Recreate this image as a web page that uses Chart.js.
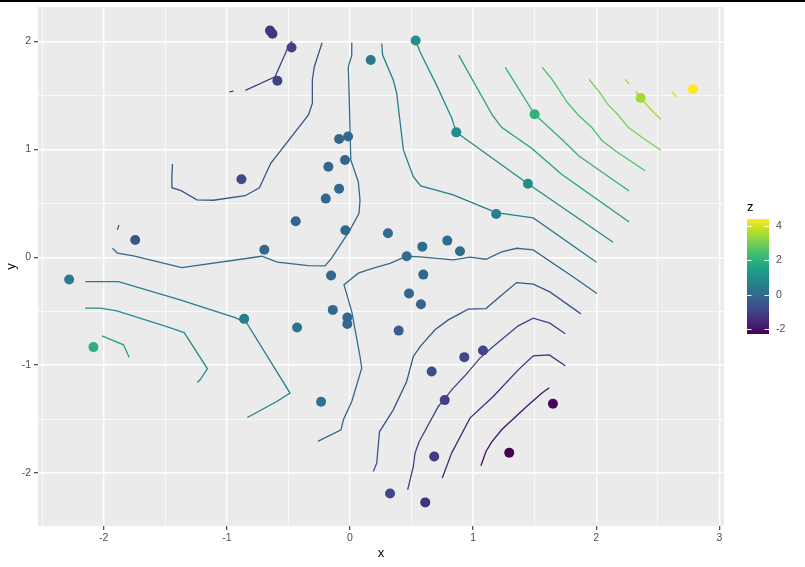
<!DOCTYPE html>
<html>
<head>
<meta charset="utf-8">
<script src="https://cdn.jsdelivr.net/npm/chart.js@4.4.0/dist/chart.umd.min.js"></script>
<style>
  html, body { margin: 0; padding: 0; background: #fff; }
  #wrap { position: relative; width: 805px; height: 567px; }
  #topbar { position: absolute; left: 0; top: 0; width: 805px; height: 2px; background: #000; }
</style>
</head>
<body>
<div id="wrap">
  <canvas id="contourChart" width="805" height="567"></canvas>
  <div id="topbar"></div>
</div>
<script>
// observed points (x, y, z)
const pointX = [-0.65, -0.63, -0.475, -0.59, -0.882, -1.745, -0.696, -0.089, -0.016, -0.041,
  -0.176, -0.089, -0.197, -0.441, -0.038, 0.168, 0.308, -0.154, 0.533, 0.863,
  1.499, 2.36, 2.784, 1.445, 1.187, 0.46, 0.587, 0.79, 0.893, 0.595,
  -2.281, -2.084, -0.86, -0.43, -0.14, -0.022, -0.022, -0.235, 0.325, 0.479,
  0.576, 0.395, 0.928, 1.08, 0.663, 0.769, 0.684, 1.293, 1.648, 0.611];
const pointY = [2.10, 2.07, 1.943, 1.635, 0.722, 0.16, 0.07, 1.095, 1.118, 0.901,
  0.839, 0.635, 0.543, 0.333, 0.25, 1.827, 0.222, -0.169, 2.009, 1.157,
  1.324, 1.475, 1.556, 0.681, 0.401, 0.009, 0.098, 0.154, 0.056, -0.161,
  -0.207, -0.833, -0.571, -0.652, -0.488, -0.559, -0.618, -1.34, -2.19, -0.337,
  -0.435, -0.68, -0.926, -0.865, -1.059, -1.324, -1.846, -1.812, -1.358, -2.272];
const pointZ = [-1.35, -1.3, -1.0, -1.0, -0.85, -0.55, -0.15, -0.1, -0.05, -0.1,
  -0.15, -0.1, -0.1, -0.2, -0.05, 0.4, 0.05, 0.0, 1.05, 1.0,
  2.0, 3.5, 4.39, 1.0, 0.55, 0.0, 0.05, 0.05, 0.05, -0.1,
  0.45, 1.95, 0.5, 0.15, 0.0, 0.0, 0.0, 0.25, -0.9, -0.15,
  -0.2, -0.3, -0.85, -0.95, -0.75, -1.0, -1.2, -2.29, -2.2, -1.35];

// contour paths, [x, y] in data units
const lineNeg2 = [[1.063, -1.932], [1.104, -1.8], [1.15, -1.713], [1.231, -1.599], [1.434, -1.383], [1.564, -1.254], [1.618, -1.21]];
const lineNeg15 = [[0.749, -2.046], [0.825, -1.815], [0.974, -1.491], [1.163, -1.291], [1.366, -1.044], [1.488, -0.914], [1.618, -0.905], [1.748, -1.006]];
const lineNeg1Bottom = [[0.468, -2.155], [0.514, -1.939], [0.528, -1.815], [0.562, -1.707], [0.717, -1.383], [0.838, -1.213],
  [0.933, -1.099], [1.055, -0.935], [1.163, -0.828], [1.366, -0.636], [1.488, -0.565], [1.623, -0.611], [1.748, -0.71]];
const lineNeg1Top = [[-0.85, 1.546], [-0.609, 1.672], [-0.495, 1.966], [-0.471, 2.003]];
const lineNeg1Dash = [[-0.98, 1.533], [-0.947, 1.54]];
const lineNeg05Bottom = [[0.189, -1.985], [0.217, -1.907], [0.239, -1.618], [0.351, -1.414], [0.46, -1.152], [0.514, -0.92],
  [0.574, -0.821], [0.69, -0.673], [0.798, -0.581], [0.96, -0.481], [1.104, -0.476], [1.218, -0.365],
  [1.353, -0.235], [1.488, -0.25], [1.623, -0.321], [1.875, -0.525]];
const lineNeg05Top = [[-1.442, 0.864], [-1.447, 0.746], [-1.447, 0.644], [-1.372, 0.617], [-1.244, 0.531], [-1.11, 0.528],
  [-0.852, 0.57], [-0.736, 0.644], [-0.644, 0.87], [-0.338, 1.318], [-0.306, 1.426], [-0.306, 1.642],
  [-0.29, 1.765], [-0.227, 1.987]];
const lineZeroTop = [[-1.929, 0.083], [-1.889, 0.037], [-1.759, 0.012], [-1.366, -0.096], [-0.717, 0.009], [-0.59, -0.046],
  [-0.338, -0.078], [-0.203, -0.081], [-0.149, -0.009], [0.0, 0.253], [0.073, 0.407], [0.081, 0.531],
  [0.067, 0.7], [0.006, 0.901], [-0.006, 1.456], [-0.014, 1.765], [0.014, 1.873], [0.014, 1.987]];
const lineZeroDash = [[-1.889, 0.253], [-1.877, 0.299]];
const lineZeroBottom = [[-0.262, -1.707], [-0.073, -1.599], [-0.054, -1.506], [0.014, -1.337], [0.095, -1.028], [0.081, -0.92],
  [0.014, -0.504], [-0.049, -0.256], [0.067, -0.148], [0.189, -0.102], [0.325, -0.056], [0.46, 0.009],
  [0.568, 0.003], [0.838, -0.025], [0.974, 0.0], [1.104, -0.019], [1.231, 0.049], [1.353, 0.083],
  [1.488, 0.068], [1.84, -0.204], [2.005, -0.337]];
const line05Right = [[0.257, 1.981], [0.265, 1.873], [0.351, 1.642], [0.379, 1.519], [0.433, 0.994], [0.514, 0.746],
  [0.574, 0.66], [0.838, 0.577], [1.187, 0.413], [1.488, 0.364], [2.002, -0.046]];
const line05Left = [[-2.151, -0.226], [-1.881, -0.226], [-1.38, -0.395], [-0.933, -0.559], [-0.838, -0.611], [-0.487, -1.259],
  [-0.595, -1.337], [-0.834, -1.485]];
const line1Right = [[0.533, 2.009], [0.568, 1.904], [0.696, 1.611], [0.825, 1.293], [0.863, 1.157], [0.942, 1.093],
  [1.445, 0.681], [2.137, 0.139]];
const line1Left = [[-2.151, -0.472], [-2.029, -0.472], [-1.894, -0.497], [-1.488, -0.643], [-1.347, -0.698], [-1.158, -1.034],
  [-1.218, -1.136], [-1.24, -1.161]];
const line15Right = [[0.882, 1.873], [1.155, 1.318], [1.231, 1.204], [1.475, 1.009], [1.718, 0.769], [2.267, 0.327]];
const line15Left = [[-2.015, -0.729], [-1.84, -0.812], [-1.794, -0.926]];
const line2 = [[1.261, 1.759], [1.499, 1.324], [1.726, 1.086], [1.859, 0.938], [2.267, 0.614]];
const line25 = [[1.561, 1.759], [1.637, 1.654], [1.767, 1.431], [1.853, 1.318], [1.962, 1.204], [2.048, 1.08],
  [2.165, 0.978], [2.397, 0.802]];
const line3 = [[1.942, 1.648], [2.029, 1.524], [2.092, 1.419], [2.178, 1.318], [2.259, 1.204], [2.381, 1.102], [2.524, 0.991]];
const line35 = [[2.321, 1.533], [2.394, 1.431], [2.462, 1.348], [2.489, 1.318], [2.524, 1.278]];
const line35Dash = [[2.232, 1.648], [2.267, 1.605]];
const line4Dash = [[2.611, 1.533], [2.657, 1.481]];

const contours = [
  [-2, lineNeg2], [-1.5, lineNeg15],
  [-1, lineNeg1Bottom], [-1, lineNeg1Top], [-1, lineNeg1Dash],
  [-0.5, lineNeg05Bottom], [-0.5, lineNeg05Top],
  [0, lineZeroTop], [0, lineZeroDash], [0, lineZeroBottom],
  [0.5, line05Right], [0.5, line05Left],
  [1, line1Right], [1, line1Left],
  [1.5, line15Right], [1.5, line15Left],
  [2, line2], [2.5, line25], [3, line3],
  [3.5, line35], [3.5, line35Dash], [4, line4Dash]
];

const xTicks = [-2.5, -2, -1.5, -1, -0.5, 0, 0.5, 1, 1.5, 2, 2.5, 3];
const yTicks = [-2, -1.5, -1, -0.5, 0, 0.5, 1, 1.5, 2];
const legendTicks = [-2, 0, 2, 4];

// viridis
const viridisStops = ["#440154", "#482576", "#414487", "#35608D", "#2A788E", "#21908C",
  "#22A884", "#43BF71", "#7AD151", "#BBDF27", "#FDE725"];

function hexToRgb(h) {
  return [parseInt(h.slice(1, 3), 16), parseInt(h.slice(3, 5), 16), parseInt(h.slice(5, 7), 16)];
}

function viridis(t) {
  t = Math.min(1, Math.max(0, t));
  const p = t * (viridisStops.length - 1);
  const i = Math.min(Math.floor(p), viridisStops.length - 2);
  const f = p - i;
  const a = hexToRgb(viridisStops[i]);
  const b = hexToRgb(viridisStops[i + 1]);
  const c = a.map((v, k) => Math.round(v + (b[k] - v) * f));
  return `rgb(${c[0]},${c[1]},${c[2]})`;
}

const zMin = Math.min(...pointZ);
const zMax = Math.max(...pointZ);
const zColor = (z) => viridis((z - zMin) / (zMax - zMin));

// ggplot default expansion of 5%
function expand(arr) {
  const lo = Math.min(...arr), hi = Math.max(...arr);
  const pad = (hi - lo) * 0.05;
  return [lo - pad, hi + pad];
}
const [xMin, xMax] = expand(pointX);
const [yMin, yMax] = expand(pointY);

const FONT = "'Liberation Sans', Arial, sans-serif";
const isMajor = (v) => Number.isInteger(v);

// panel background
const panelBg = {
  id: "panelBg",
  beforeDraw(chart) {
    const { ctx, chartArea: a } = chart;
    ctx.save();
    ctx.fillStyle = "#EBEBEB";
    ctx.fillRect(a.left, a.top, a.right - a.left, a.bottom - a.top);
    ctx.restore();
  },
};

// colour bar legend
const colorBar = {
  id: "colorBar",
  afterDraw(chart) {
    const ctx = chart.ctx;
    const left = 747, top = 219, w = 22, h = 115;
    const grad = ctx.createLinearGradient(0, top + h, 0, top);
    viridisStops.forEach((c, i) => grad.addColorStop(i / (viridisStops.length - 1), c));
    ctx.save();
    ctx.fillStyle = grad;
    ctx.fillRect(left, top, w, h);

    ctx.strokeStyle = "#FFFFFF";
    ctx.lineWidth = 1;
    ctx.font = `10.5px ${FONT}`;
    ctx.fillStyle = "#4D4D4D";
    ctx.textAlign = "left";
    ctx.textBaseline = "middle";
    legendTicks.forEach((v) => {
      const y = Math.round(top + ((zMax - v) / (zMax - zMin)) * h) + 0.5;
      ctx.beginPath();
      ctx.moveTo(left, y);
      ctx.lineTo(left + 4.5, y);
      ctx.moveTo(left + w - 4.5, y);
      ctx.lineTo(left + w, y);
      ctx.stroke();
      ctx.fillText(String(v), 776, y);
    });

    ctx.fillStyle = "#000000";
    ctx.font = `13px ${FONT}`;
    ctx.fillText("z", 747, 207);
    ctx.restore();
  },
};

const lineSets = contours.map(([level, path]) => ({
  type: "scatter",
  data: path.map(([x, y]) => ({ x, y })),
  showLine: true,
  borderColor: zColor(level),
  borderWidth: 1.3,
  pointRadius: 0,
  fill: false,
  order: 2,
}));

const pointSet = {
  type: "scatter",
  data: pointX.map((x, i) => ({ x, y: pointY[i] })),
  backgroundColor: pointZ.map(zColor),
  pointRadius: 5,
  pointBorderWidth: 0,
  borderWidth: 0,
  order: 1,
};

function axisGrid() {
  return {
    color: "#FFFFFF",
    lineWidth: (c) => (c.tick && isMajor(c.tick.value) ? 1.4 : 0.7),
    tickColor: (c) => (c.tick && isMajor(c.tick.value) ? "#333333" : "rgba(0,0,0,0)"),
    tickLength: 4,
    tickWidth: 1.1,
    drawTicks: true,
  };
}

new Chart(document.getElementById("contourChart"), {
  type: "scatter",
  data: { datasets: [pointSet, ...lineSets] },
  options: {
    responsive: false,
    animation: false,
    devicePixelRatio: 1,
    layout: { padding: { left: 0, right: 81, top: 7, bottom: 0 } },
    plugins: { legend: { display: false }, tooltip: { enabled: false } },
    scales: {
      x: {
        type: "linear",
        min: xMin,
        max: xMax,
        afterBuildTicks: (s) => { s.ticks = xTicks.map((v) => ({ value: v })); },
        afterFit: (s) => {
          s.height = 41;
          s.paddingLeft = 0;
          s.paddingRight = 0;
        },
        border: { display: false },
        grid: axisGrid(),
        ticks: {
          autoSkip: false,
          maxRotation: 0,
          padding: 2,
          color: "#4D4D4D",
          font: { family: FONT, size: 10.5 },
          callback: (v) => (isMajor(v) ? String(v) : ""),
        },
        title: {
          display: true,
          text: "x",
          color: "#000000",
          font: { family: FONT, size: 13 },
          padding: { top: 0, bottom: 6 },
        },
      },
      y: {
        type: "linear",
        min: yMin,
        max: yMax,
        afterBuildTicks: (s) => { s.ticks = yTicks.map((v) => ({ value: v })); },
        afterFit: (s) => {
          s.width = 38;
          s.paddingTop = 0;
          s.paddingBottom = 0;
        },
        border: { display: false },
        grid: axisGrid(),
        ticks: {
          autoSkip: false,
          padding: 3,
          color: "#4D4D4D",
          font: { family: FONT, size: 10.5 },
          callback: (v) => (isMajor(v) ? String(v) : ""),
        },
        title: {
          display: true,
          text: "y",
          color: "#000000",
          font: { family: FONT, size: 13 },
          padding: { top: 4, bottom: 0 },
        },
      },
    },
  },
  plugins: [panelBg, colorBar],
});
</script>
</body>
</html>
